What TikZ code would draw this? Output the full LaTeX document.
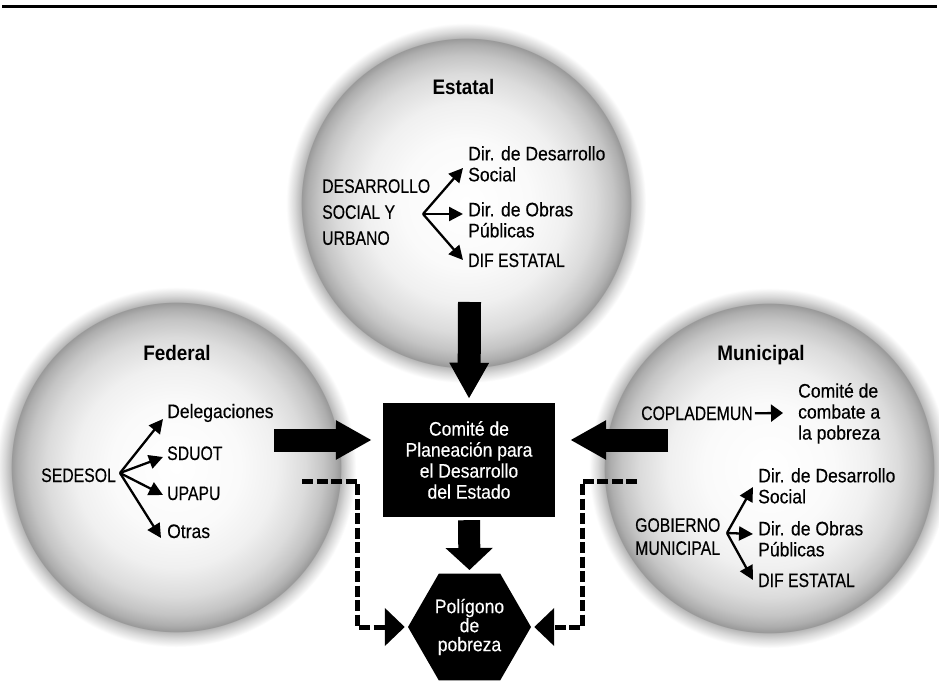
\documentclass[tikz,border=0pt]{standalone}
\usepackage{fontspec}
\setmainfont{Liberation Sans}[FakeStretch=0.9,FakeBold=0.35]
\newfontfamily\capsfont{Liberation Sans}[FakeStretch=0.81,FakeBold=0.35]
\newfontfamily\titlefont{Liberation Sans}[FakeStretch=0.9]
\usetikzlibrary{arrows.meta,shapes.geometric}
\pgfdeclareradialshading{spherefill}{\pgfpoint{0bp}{0bp}}{%
  color(0bp)=(white);
  color(9bp)=(white!98!black);
  color(14bp)=(white!94!black);
  color(18bp)=(white!86!black);
  color(20.5bp)=(white!77!black);
  color(22bp)=(white!68!black);
  color(22.85bp)=(white!60!black);
  color(22.95bp)=(white!72!black);
  color(23.8bp)=(white!85!black);
  color(25bp)=(white);
  color(50bp)=(white)}
\begin{document}
\begin{tikzpicture}[x=1pt,y=-1pt,
  sphere/.style={circle, minimum size=360pt, inner sep=0pt, shading=spherefill},
  title/.style={font=\titlefont\bfseries\fontsize{21}{24}\selectfont, anchor=base, inner sep=0pt},
  caps/.style={font=\capsfont\fontsize{19.5}{#1}\selectfont, align=left, anchor=north west, inner sep=0pt},
  caps/.default=26,
  lbl/.style={font=\fontsize{19.5}{21}\selectfont, align=left, anchor=north west, inner sep=0pt},
  thinarrow/.style={line width=2.3pt, -{Triangle[length=14pt,width=14pt]}},
  bigarrow/.style={line width=23pt, -{Triangle[length=36pt,width=37pt]}},
  smallbig/.style={line width=22pt, -{Triangle[length=22pt,width=46pt]}},
  dashconn/.style={line width=5pt, dash pattern=on 11pt off 3.5pt, -{Triangle[length=20pt,width=37pt]}},
  cboxstyle/.style={fill=black, text=white, minimum width=172pt, minimum height=114pt, inner sep=0pt, align=center, font=\fontsize{19.5}{21}\selectfont},
  hexa/.style={regular polygon, regular polygon sides=6, minimum size=123pt, inner sep=0pt, fill=black, text=white, align=center, font=\fontsize{19.5}{19}\selectfont}
]
\useasboundingbox (0,0) rectangle (939,700);
\fill[white] (0,0) rectangle (939,700);
% top rule
\coordinate (ruleL) at (2,6.5);
\coordinate (ruleR) at (937,6.5);
\draw[line width=3pt] (ruleL) -- (ruleR);

% spheres
\node[sphere] (est) at (466,203) {};
\node[sphere] (fed) at (176,467) {};
\node[sphere] (mun) at (769,468) {};

% ---------- Estatal ----------
\node[title] (esttitle) at (463.5,95) {Estatal};
\node[caps] (desa) at (322,179) {DESARROLLO\\SOCIAL Y\\URBANO};
\coordinate (ebr) at (423,214);
\coordinate (et1) at (463,168);
\coordinate (et2) at (463,214);
\coordinate (et3) at (463,260);
\node[lbl] (edds) at (468,146) {Dir. de Desarrollo\\Social};
\node[lbl] (edop) at (468,202) {Dir. de Obras\\Públicas};
\node[caps, anchor=base west] (edif) at (468,267) {DIF ESTATAL};
\draw[thinarrow] (ebr) -- (et1);
\draw[thinarrow] (ebr) -- (et2);
\draw[thinarrow] (ebr) -- (et3);

% ---------- Federal ----------
\node[title] (fedtitle) at (177,360) {Federal};
\node[caps, anchor=base west] (sedesol) at (41,482) {SEDESOL};
\coordinate (fbr) at (120,473);
\coordinate (ft1) at (163,419);
\coordinate (ft2) at (163,457);
\coordinate (ft3) at (163,495);
\coordinate (ft4) at (161,538);
\node[lbl, anchor=base west] (deleg) at (167,418) {Delegaciones};
\node[caps, anchor=base west] (sduot) at (167,460) {SDUOT};
\node[caps, anchor=base west] (upapu) at (167,500) {UPAPU};
\node[lbl, anchor=base west] (otras) at (167,538) {Otras};
\draw[thinarrow] (fbr) -- (ft1);
\draw[thinarrow] (fbr) -- (ft2);
\draw[thinarrow] (fbr) -- (ft3);
\draw[thinarrow] (fbr) -- (ft4);

% ---------- Municipal ----------
\node[title] (muntitle) at (761,360) {Municipal};
\node[caps, anchor=base west] (copla) at (641,420) {COPLADEMUN};
\coordinate (ctip) at (783,413);
\node[lbl] (comb) at (798,383) {Comité de\\combate a\\la pobreza};
\draw[line width=2.3pt, -{Triangle[length=12pt,width=17pt]}, shorten <=2pt] (copla.east) -- (ctip);
\node[caps=23] (gob) at (635,518) {GOBIERNO\\MUNICIPAL};
\coordinate (mbr) at (727,533);
\coordinate (mt1) at (753,487);
\coordinate (mt2) at (753,534);
\coordinate (mt3) at (753,580);
\node[lbl] (mdds) at (758,468) {Dir. de Desarrollo\\Social};
\node[lbl] (mdop) at (758,521) {Dir. de Obras\\Públicas};
\node[caps, anchor=base west] (mdif) at (758,587) {DIF ESTATAL};
\draw[thinarrow] (mbr) -- (mt1);
\draw[thinarrow] (mbr) -- (mt2);
\draw[thinarrow] (mbr) -- (mt3);

% ---------- centre ----------
\node[cboxstyle] (cbox) at (469,460) {Comité de\\Planeación para\\el Desarrollo\\del Estado};
\node[hexa] (hex) at (469.5,627) {Polígono\\de\\pobreza};

\coordinate (estout) at (469.5,302);
\coordinate (fedout) at (274,440);
\coordinate (munout) at (668,440);
\draw[bigarrow, shorten >=4pt] (estout) -- (cbox.north);
\draw[bigarrow, shorten >=11pt] (fedout) -- (cbox.west |- fedout);
\draw[bigarrow, shorten >=15pt] (munout) -- (cbox.east |- munout);
\draw[smallbig, shorten <=3pt, shorten >=3.5pt] (cbox.south) -- (hex.north);

% dashed connectors
\coordinate (fedd) at (302,481);
\coordinate (lcorner) at (357,481);
\coordinate (mund) at (637,481);
\coordinate (rcorner) at (582,481);
\draw[dashconn, shorten >=3pt] (fedd) -- (lcorner) |- (hex.west);
\draw[dashconn, shorten >=3pt] (mund) -- (rcorner) |- (hex.east);
\end{tikzpicture}
\end{document}
